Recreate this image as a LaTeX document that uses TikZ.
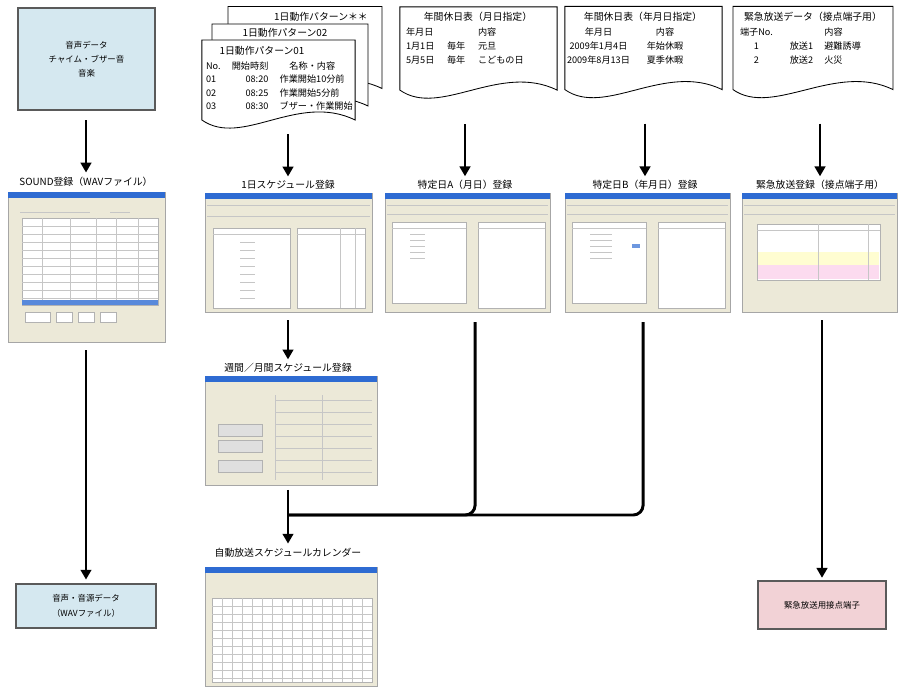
\documentclass[tikz,border=0pt]{standalone}
\usepackage{fontspec}
\setmainfont{Noto Sans CJK JP}
\usetikzlibrary{arrows.meta,positioning}

\definecolor{srcblue}{HTML}{D5E8F0}
\definecolor{outpink}{HTML}{F2D2D6}
\definecolor{winbg}{HTML}{ECE9D8}
\definecolor{winbar}{HTML}{2E6BD2}
\definecolor{framegray}{HTML}{5A5A5A}

% paper sheet with a wavy lower edge, drawn round an empty frame node
\newcommand{\paperoutline}[1]{%
  \draw[fill=white, line width=0.6pt] (#1.north west) -- (#1.north east) -- (#1.south east)
    .. controls ([xshift=-1.43cm, yshift=0.7cm]#1.south east) and ([xshift=1cm, yshift=-0.7cm]#1.south west) ..
    (#1.south west) -- cycle;}

\begin{document}
\begin{tikzpicture}[x=0.025cm, y=-0.025cm,
  every node/.style={inner sep=0pt, outer sep=0pt},
  srcbox/.style={draw=framegray, line width=1.5pt, fill=srcblue, align=center,
    font=\fontsize{6}{10}\selectfont},
  outbox/.style={draw=framegray, line width=1.5pt, align=center,
    font=\fontsize{6}{11}\selectfont},
  sheet/.style={minimum width=3.9cm, minimum height=2.05cm},
  sheettext/.style={align=left, anchor=north west, font=\fontsize{6.5}{10}\selectfont},
  sheettitle/.style={font=\fontsize{7}{8}\selectfont},
  caption/.style={font=\fontsize{7}{8}\selectfont},
  screen/.style={draw=gray!70, fill=winbg, line width=0.5pt},
  pane/.style={draw=gray!60, fill=white, line width=0.4pt},
  grid/.style={gray!45, line width=0.3pt},
  arrow/.style={-{Triangle[length=7pt, width=7.5pt]}, line width=2.1pt},
  link/.style={line width=2.1pt, rounded corners=7pt}
]
\useasboundingbox (0,0) rectangle (898,686);

% sources
\node[srcbox, minimum width=3.43cm, minimum height=2.55cm] (src) at (86.5,59)
  {音声データ\\チャイム・ブザー音\\音楽};

\node[sheet, minimum width=3.85cm] (pat3) at (305,47.5) {};
\paperoutline{pat3}
\node[sheet, minimum width=3.9cm] (pat2) at (290,65) {};
\paperoutline{pat2}
\node[sheet, minimum width=3.83cm, minimum height=2cm] (pat1) at (278.5,80) {};
\paperoutline{pat1}
\node[sheettitle] (pat3t) at (321,17) {1日動作パターン＊＊};
\node[sheettitle] (pat2t) at (285,33) {1日動作パターン02};
\node[sheettitle] (pat1t) at (262,51) {1日動作パターン01};
\node[sheettext, font=\fontsize{6.5}{9.6}\selectfont] (pat1rows) at (206,60)
  {\begin{tabular}{@{}l@{\hspace{8pt}}r@{\hspace{8pt}}l@{}}
   No. & 開始時刻 & \hspace{7pt}名称・内容\\
   01 & 08:20 & 作業開始10分前\\
   02 & 08:25 & 作業開始5分前\\
   03 & 08:30 & ブザー・作業開始
   \end{tabular}};

\node[sheet, minimum width=3.93cm, minimum height=2.08cm] (holA) at (478.5,48.5) {};
\paperoutline{holA}
\node[sheettitle] (holAt) at (478,17) {年間休日表（月日指定）};
\node[sheettext] (holArows) at (406,26)
  {\begin{tabular}{@{}l@{\hspace{9pt}}l@{\hspace{9pt}}l@{}}
   年月日 & & 内容\\
   1月1日 & 毎年 & 元旦\\
   5月5日 & 毎年 & こどもの日
   \end{tabular}};

\node[sheet, minimum width=3.93cm, minimum height=2.08cm] (holB) at (643.5,48) {};
\paperoutline{holB}
\node[sheettitle] (holBt) at (643,17) {年間休日表（年月日指定）};
\node[sheettext] (holBrows) at (567,26)
  {\begin{tabular}{@{}c@{\hspace{12pt}}c@{}}
   年月日 & 内容\\
   2009年1月4日 & 年始休暇\\
   2009年8月13日 & 夏季休暇
   \end{tabular}};

\node[sheet, minimum width=4cm, minimum height=2.08cm] (emg) at (813,48) {};
\paperoutline{emg}
\node[sheettitle] (emgt) at (813,17) {緊急放送データ（接点端子用）};
\node[sheettext] (emgrows) at (740,26)
  {\begin{tabular}{@{}c@{\hspace{12pt}}l@{\hspace{8pt}}l@{}}
   端子No. & & 内容\\
   1 & 放送1 & 避難誘導\\
   2 & 放送2 & 火災
   \end{tabular}};

% screen captions
\node[caption] (sndtitle) at (86,182) {SOUND登録（WAVファイル）};
\node[caption] (daytitle) at (288,185) {1日スケジュール登録};
\node[caption] (holAtitle) at (465,185) {特定日A（月日）登録};
\node[caption] (holBtitle) at (645,185) {特定日B（年月日）登録};
\node[caption] (emgtitle) at (820,185) {緊急放送登録（接点端子用）};
\node[caption] (weektitle) at (288,368) {週間／月間スケジュール登録};
\node[caption] (caltitle) at (288,553) {自動放送スケジュールカレンダー};

% screens
\node[screen, minimum width=3.93cm, minimum height=3.75cm] (sndscr) at (86.5,267) {};
\fill[winbar] (sndscr.north west) rectangle ([yshift=-0.15cm]sndscr.north east);
\draw[grid] (20,212) -- (90,212) (110,212) -- (130,212);
\draw[pane] (22,218) rectangle (158,305);
\foreach \cx in {42,70,96,116,138} \draw[grid] (\cx,218) -- (\cx,300);
\foreach \ry in {226,234,...,298} \draw[grid] (22,\ry) -- (158,\ry);
\fill[winbar!80] (22,300) rectangle (158,305);
\draw[pane] (25,312) rectangle (50,322) (56,312) rectangle (72,322)
  (78,312) rectangle (94,322) (100,312) rectangle (116,322);

\node[screen, minimum width=4.18cm, minimum height=2.98cm] (dayscr) at (288.5,252.5) {};
\fill[winbar] (dayscr.north west) rectangle ([yshift=-0.15cm]dayscr.north east);
\draw[grid] (207,205) -- (370,205) (207,216) -- (370,216);
\draw[pane] (213,228) rectangle (290,308) (297,228) rectangle (365,308);
\draw[grid] (213,234) -- (290,234) (297,234) -- (365,234)
  (340,228) -- (340,308) (355,228) -- (355,308);
\foreach \ry in {242,250,...,298} \draw[grid] (240,\ry) -- (255,\ry);

\node[screen, minimum width=4.13cm, minimum height=2.98cm] (holAscr) at (467.5,252.5) {};
\fill[winbar] (holAscr.north west) rectangle ([yshift=-0.15cm]holAscr.north east);
\draw[grid] (387,205) -- (548,205) (387,214) -- (548,214);
\draw[pane] (392,222) rectangle (466,303) (478,222) rectangle (545,308);
\draw[grid] (392,228) -- (466,228) (478,228) -- (545,228);
\foreach \ry in {234,240,...,258} \draw[grid] (410,\ry) -- (425,\ry);

\node[screen, minimum width=4.13cm, minimum height=2.98cm] (holBscr) at (647.5,252.5) {};
\fill[winbar] (holBscr.north west) rectangle ([yshift=-0.15cm]holBscr.north east);
\draw[grid] (567,205) -- (728,205) (567,214) -- (728,214);
\draw[pane] (572,222) rectangle (646,303) (658,222) rectangle (725,308);
\draw[grid] (572,228) -- (646,228) (658,228) -- (725,228);
\foreach \ry in {234,240,...,258} \draw[grid] (590,\ry) -- (612,\ry);
\fill[winbar!70] (632,244) rectangle (640,248);

\node[screen, minimum width=3.88cm, minimum height=2.98cm] (emgscr) at (819.5,252.5) {};
\fill[winbar] (emgscr.north west) rectangle ([yshift=-0.15cm]emgscr.north east);
\draw[grid] (744,205) -- (895,205) (744,214) -- (895,214);
\draw[pane] (757,224) rectangle (880,280);
\fill[yellow!18] (758,252) rectangle (879,265);
\fill[magenta!14] (758,265) rectangle (879,279);
\draw[grid] (757,230) -- (880,230) (818,224) -- (818,280) (868,224) -- (868,280);

\node[screen, minimum width=4.3cm, minimum height=2.73cm] (weekscr) at (291,430.5) {};
\fill[winbar] (weekscr.north west) rectangle ([yshift=-0.15cm]weekscr.north east);
\foreach \ry in {400,412,...,472} \draw[grid] (275,\ry) -- (372,\ry);
\draw[grid] (322,395) -- (322,480) (275,395) -- (275,480);
\draw[pane, fill=gray!25] (218,424) rectangle (262,436) (218,440) rectangle (262,452)
  (218,460) rectangle (262,472);

\node[screen, minimum width=4.3cm, minimum height=2.98cm] (calscr) at (291,626.5) {};
\fill[winbar] (calscr.north west) rectangle ([yshift=-0.15cm]calscr.north east);
\draw[pane] (212,598) rectangle (372,682);
\foreach \ry in {606,614,...,678} \draw[grid] (212,\ry) -- (372,\ry);
\foreach \cx in {222,232,...,362} \draw[grid] (\cx,598) -- (\cx,682);

% outputs
\node[outbox, fill=srcblue, minimum width=3.5cm, minimum height=1.08cm] (wavout) at (86,606)
  {音声・音源データ\\（WAVファイル）};
\node[outbox, fill=outpink, minimum width=3.2cm, minimum height=1.2cm] (contact) at (822,605)
  {緊急放送用接点端子};

% connectors
\draw[arrow, shorten <=0.25cm, shorten >=0.12cm] (sndtitle.north |- src.south) -- (sndtitle.north);
\draw[arrow, shorten <=0.2cm, shorten >=0.12cm] (wavout.north |- sndscr.south) -- (wavout.north);
\draw[arrow, shorten <=0.35cm, shorten >=0.1cm] (daytitle.north |- pat1.south) -- (daytitle.north);
\draw[arrow, shorten <=0.2cm, shorten >=0.1cm] (weektitle.north |- dayscr.south) -- (weektitle.north);
\draw[arrow, shorten <=0.85cm, shorten >=0.1cm] (holAtitle.north |- holA.south) -- (holAtitle.north);
\draw[arrow, shorten <=0.85cm, shorten >=0.1cm] (holBtitle.north |- holB.south) -- (holBtitle.north);
\draw[arrow, shorten <=0.85cm, shorten >=0.1cm] (emgtitle.north |- emg.south) -- (emgtitle.north);
\draw[arrow, shorten <=0.2cm, shorten >=0.08cm] (contact.north |- emgscr.south) -- (contact.north);

\coordinate (join) at (288,515);
\draw[link, shorten <=0.25cm] ([xshift=0.19cm]holAscr.south) |- (join);
\draw[link, shorten <=0.25cm] ([xshift=-0.11cm]holBscr.south) |- (join);
\draw[arrow, shorten <=0.12cm, shorten >=0.12cm] (caltitle.north |- weekscr.south) -- (caltitle.north);
\end{tikzpicture}
\end{document}
